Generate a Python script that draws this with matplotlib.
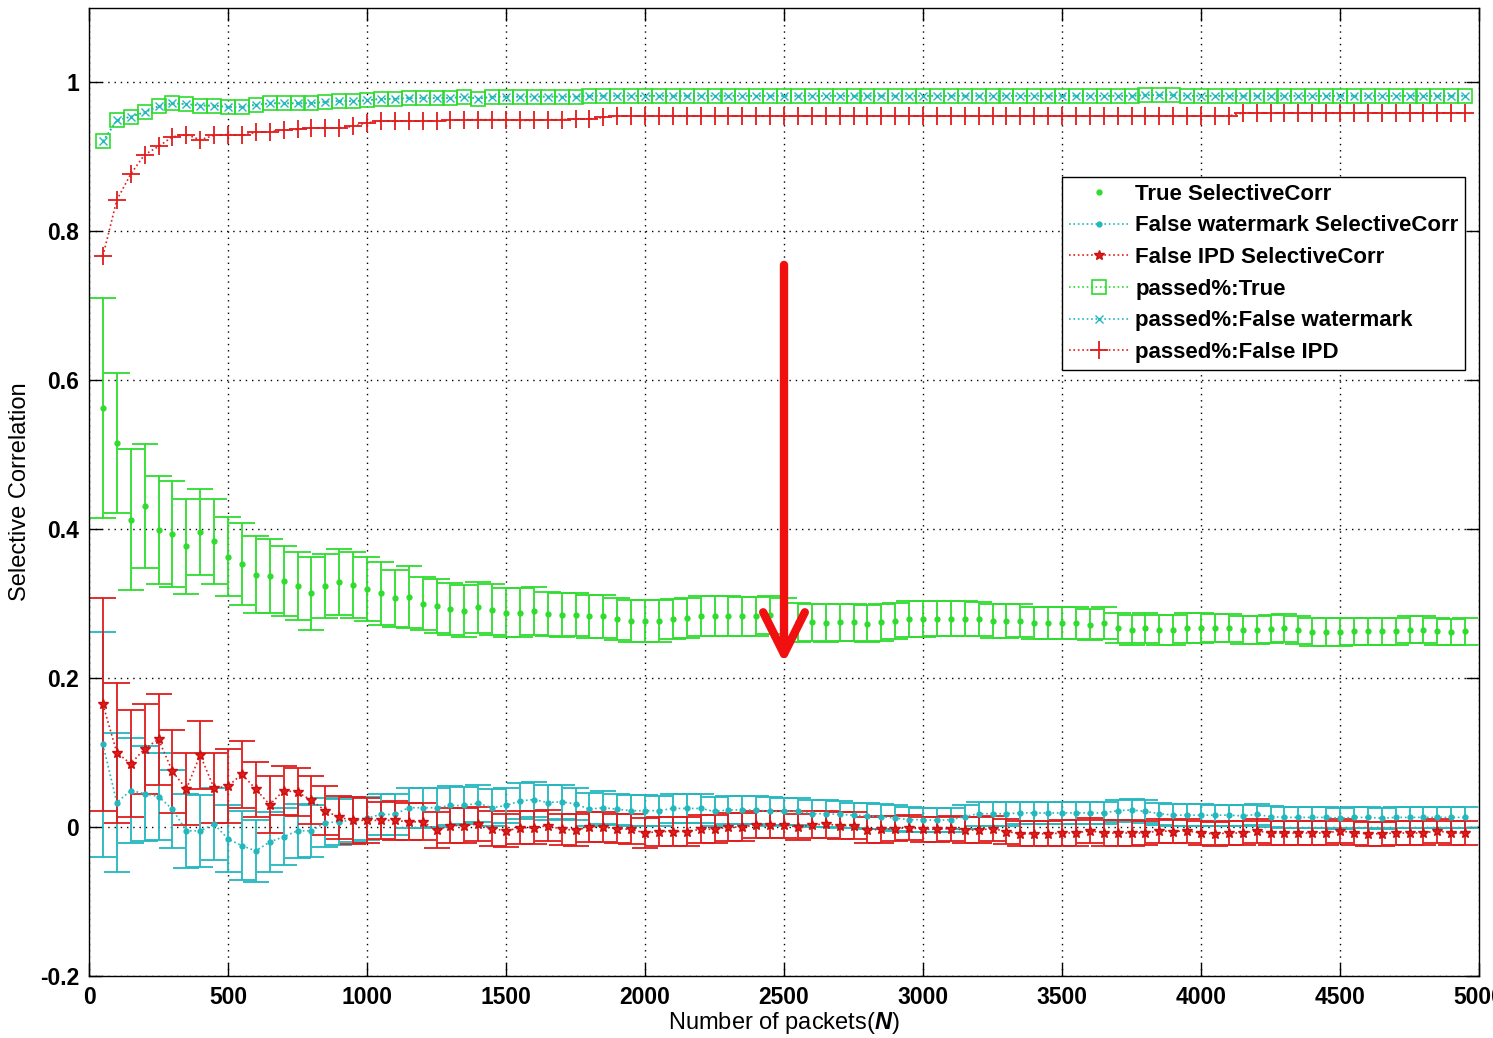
import matplotlib
matplotlib.use('Agg')
import matplotlib.pyplot as plt

# packets counted in steps of 50
N = list(range(50, 5000, 50))

true_corr = [
    0.563, 0.516, 0.413, 0.431, 0.399, 0.394, 0.377, 0.396, 0.384, 0.363,
    0.353, 0.339, 0.337, 0.331, 0.324, 0.314, 0.324, 0.329, 0.325, 0.320,
    0.314, 0.307, 0.309, 0.300, 0.297, 0.293, 0.290, 0.295, 0.292, 0.288,
    0.288, 0.290, 0.286, 0.285, 0.285, 0.283, 0.283, 0.279, 0.277, 0.277,
    0.277, 0.279, 0.281, 0.283, 0.283, 0.283, 0.283, 0.283, 0.285, 0.281,
    0.275, 0.275, 0.274, 0.275, 0.275, 0.273, 0.275, 0.277, 0.279, 0.279,
    0.280, 0.280, 0.280, 0.279, 0.277, 0.277, 0.277, 0.274, 0.274, 0.274,
    0.274, 0.272, 0.274, 0.267, 0.265, 0.267, 0.265, 0.265, 0.267, 0.267,
    0.267, 0.267, 0.265, 0.265, 0.266, 0.267, 0.265, 0.262, 0.262, 0.262,
    0.263, 0.263, 0.263, 0.263, 0.265, 0.265, 0.263, 0.262, 0.263,
]
true_err = [
    0.148, 0.094, 0.095, 0.083, 0.073, 0.071, 0.064, 0.058, 0.057, 0.053,
    0.055, 0.052, 0.050, 0.047, 0.046, 0.049, 0.043, 0.044, 0.044, 0.043,
    0.042, 0.038, 0.041, 0.036, 0.036, 0.035, 0.035, 0.034, 0.034, 0.033,
    0.033, 0.032, 0.030, 0.030, 0.029, 0.029, 0.029, 0.028, 0.028, 0.028,
    0.028, 0.027, 0.027, 0.027, 0.027, 0.027, 0.026, 0.026, 0.026, 0.026,
    0.026, 0.025, 0.025, 0.025, 0.025, 0.025, 0.025, 0.024, 0.024, 0.024,
    0.024, 0.024, 0.024, 0.023, 0.023, 0.023, 0.022, 0.022, 0.021, 0.021,
    0.021, 0.021, 0.021, 0.020, 0.020, 0.020, 0.020, 0.020, 0.020, 0.020,
    0.019, 0.019, 0.019, 0.019, 0.019, 0.019, 0.019, 0.019, 0.019, 0.019,
    0.018, 0.018, 0.018, 0.018, 0.018, 0.018, 0.018, 0.018, 0.018,
]

wm_corr = [
    0.111, 0.033, 0.049, 0.045, 0.041, 0.024, -0.005, -0.005, 0.004, -0.016,
    -0.025, -0.032, -0.020, -0.013, -0.005, -0.005, 0.006, 0.007, 0.010, 0.012,
    0.017, 0.017, 0.026, 0.026, 0.026, 0.029, 0.029, 0.032, 0.026, 0.029,
    0.035, 0.037, 0.033, 0.034, 0.031, 0.024, 0.026, 0.024, 0.022, 0.022,
    0.022, 0.025, 0.025, 0.025, 0.021, 0.023, 0.023, 0.023, 0.021, 0.021,
    0.021, 0.018, 0.018, 0.017, 0.016, 0.015, 0.014, 0.012, 0.010, 0.010,
    0.009, 0.010, 0.014, 0.018, 0.018, 0.018, 0.019, 0.019, 0.019, 0.019,
    0.019, 0.019, 0.019, 0.022, 0.023, 0.021, 0.018, 0.016, 0.016, 0.016,
    0.016, 0.016, 0.015, 0.017, 0.014, 0.013, 0.013, 0.013, 0.013, 0.012,
    0.013, 0.013, 0.012, 0.013, 0.013, 0.013, 0.013, 0.013, 0.013,
]
wm_err = [
    0.151, 0.094, 0.070, 0.064, 0.058, 0.052, 0.050, 0.048, 0.048, 0.045,
    0.046, 0.042, 0.040, 0.038, 0.036, 0.035, 0.033, 0.031, 0.030, 0.029,
    0.028, 0.028, 0.027, 0.027, 0.026, 0.026, 0.025, 0.025, 0.025, 0.024,
    0.024, 0.024, 0.023, 0.023, 0.022, 0.022, 0.022, 0.021, 0.021, 0.021,
    0.020, 0.020, 0.020, 0.020, 0.019, 0.019, 0.019, 0.019, 0.019, 0.018,
    0.018, 0.018, 0.018, 0.018, 0.017, 0.017, 0.017, 0.017, 0.017, 0.016,
    0.016, 0.016, 0.016, 0.016, 0.016, 0.016, 0.015, 0.015, 0.015, 0.015,
    0.015, 0.015, 0.015, 0.015, 0.015, 0.015, 0.015, 0.015, 0.015, 0.015,
    0.014, 0.014, 0.014, 0.014, 0.014, 0.014, 0.014, 0.014, 0.014, 0.014,
    0.014, 0.014, 0.014, 0.014, 0.014, 0.014, 0.014, 0.014, 0.014,
]

ipd_corr = [
    0.165, 0.100, 0.085, 0.105, 0.118, 0.075, 0.051, 0.097, 0.052, 0.055,
    0.071, 0.051, 0.030, 0.049, 0.047, 0.036, 0.022, 0.013, 0.009, 0.009,
    0.009, 0.009, 0.007, 0.007, -0.004, 0.002, 0.002, 0.004, -0.002, -0.005,
    -0.001, -0.001, 0.002, -0.003, -0.004, 0.000, 0.000, -0.002, -0.003, -0.008,
    -0.006, -0.006, -0.006, -0.003, -0.003, 0.000, 0.000, 0.003, 0.003, 0.003,
    0.000, 0.003, 0.004, 0.002, 0.002, -0.004, -0.003, -0.002, -0.001, -0.003,
    -0.003, -0.002, -0.004, -0.004, -0.002, -0.006, -0.009, -0.009, -0.009, -0.008,
    -0.008, -0.005, -0.008, -0.008, -0.008, -0.008, -0.005, -0.006, -0.005, -0.008,
    -0.009, -0.008, -0.008, -0.005, -0.008, -0.008, -0.008, -0.008, -0.008, -0.005,
    -0.008, -0.009, -0.009, -0.008, -0.008, -0.008, -0.005, -0.008, -0.008,
]
ipd_err = [
    0.143, 0.094, 0.072, 0.060, 0.061, 0.056, 0.048, 0.046, 0.047, 0.050,
    0.045, 0.037, 0.038, 0.033, 0.032, 0.032, 0.033, 0.029, 0.032, 0.030,
    0.025, 0.026, 0.025, 0.025, 0.024, 0.024, 0.023, 0.023, 0.023, 0.022,
    0.022, 0.022, 0.021, 0.021, 0.021, 0.020, 0.020, 0.020, 0.020, 0.020,
    0.019, 0.019, 0.019, 0.019, 0.019, 0.019, 0.019, 0.018, 0.018, 0.018,
    0.018, 0.018, 0.018, 0.018, 0.018, 0.018, 0.018, 0.017, 0.017, 0.017,
    0.017, 0.017, 0.017, 0.017, 0.017, 0.017, 0.017, 0.017, 0.017, 0.017,
    0.017, 0.017, 0.017, 0.017, 0.017, 0.016, 0.016, 0.016, 0.016, 0.016,
    0.016, 0.016, 0.016, 0.016, 0.016, 0.016, 0.016, 0.016, 0.016, 0.016,
    0.016, 0.016, 0.016, 0.016, 0.016, 0.016, 0.016, 0.016, 0.016,
]

passed_true = [
    0.921, 0.949, 0.954, 0.960, 0.968, 0.972, 0.971, 0.969, 0.969, 0.967,
    0.967, 0.970, 0.972, 0.972, 0.972, 0.972, 0.974, 0.975, 0.975, 0.976,
    0.978, 0.978, 0.979, 0.979, 0.979, 0.979, 0.981, 0.978, 0.981, 0.981,
    0.981, 0.981, 0.981, 0.981, 0.981, 0.982, 0.982, 0.982, 0.982, 0.982,
    0.982, 0.982, 0.982, 0.982, 0.982, 0.982, 0.982, 0.982, 0.982, 0.982,
    0.982, 0.982, 0.982, 0.982, 0.982, 0.982, 0.982, 0.982, 0.982, 0.982,
    0.982, 0.982, 0.982, 0.982, 0.982, 0.982, 0.982, 0.982, 0.982, 0.982,
    0.982, 0.982, 0.982, 0.982, 0.982, 0.983, 0.983, 0.983, 0.982, 0.982,
    0.982, 0.982, 0.982, 0.982, 0.982, 0.982, 0.982, 0.982, 0.982, 0.982,
    0.982, 0.982, 0.982, 0.982, 0.982, 0.982, 0.982, 0.982, 0.982,
]
passed_wm = [
    0.921, 0.949, 0.954, 0.960, 0.968, 0.972, 0.971, 0.969, 0.969, 0.967,
    0.967, 0.970, 0.972, 0.972, 0.972, 0.972, 0.974, 0.975, 0.975, 0.976,
    0.978, 0.978, 0.979, 0.979, 0.979, 0.979, 0.981, 0.978, 0.981, 0.981,
    0.981, 0.981, 0.981, 0.981, 0.981, 0.982, 0.982, 0.982, 0.982, 0.982,
    0.982, 0.982, 0.982, 0.982, 0.982, 0.982, 0.982, 0.982, 0.982, 0.982,
    0.982, 0.982, 0.982, 0.982, 0.982, 0.982, 0.982, 0.982, 0.982, 0.982,
    0.982, 0.982, 0.982, 0.982, 0.982, 0.982, 0.982, 0.982, 0.982, 0.982,
    0.982, 0.982, 0.982, 0.982, 0.982, 0.983, 0.983, 0.983, 0.982, 0.982,
    0.982, 0.982, 0.982, 0.982, 0.982, 0.982, 0.982, 0.982, 0.982, 0.982,
    0.982, 0.982, 0.982, 0.982, 0.982, 0.982, 0.982, 0.982, 0.982,
]
passed_ipd = [
    0.767, 0.842, 0.877, 0.903, 0.914, 0.927, 0.930, 0.923, 0.929, 0.930,
    0.929, 0.933, 0.934, 0.936, 0.937, 0.939, 0.939, 0.939, 0.941, 0.946,
    0.948, 0.948, 0.948, 0.948, 0.948, 0.949, 0.950, 0.950, 0.950, 0.950,
    0.949, 0.949, 0.950, 0.950, 0.951, 0.951, 0.953, 0.955, 0.955, 0.955,
    0.955, 0.955, 0.955, 0.955, 0.955, 0.955, 0.955, 0.955, 0.955, 0.955,
    0.955, 0.955, 0.955, 0.955, 0.955, 0.955, 0.955, 0.955, 0.955, 0.955,
    0.955, 0.955, 0.955, 0.955, 0.955, 0.955, 0.955, 0.955, 0.955, 0.955,
    0.955, 0.955, 0.955, 0.955, 0.955, 0.955, 0.955, 0.955, 0.955, 0.955,
    0.955, 0.955, 0.959, 0.959, 0.959, 0.959, 0.959, 0.959, 0.959, 0.959,
    0.959, 0.959, 0.959, 0.959, 0.959, 0.959, 0.959, 0.959, 0.959,
]

labels = ['True SelectiveCorr', 'False watermark SelectiveCorr',
          'False IPD SelectiveCorr', 'passed%:True',
          'passed%:False watermark', 'passed%:False IPD']

# arrow drawn on top of the plot (x, y_start, y_end)
arrow_x, arrow_top, arrow_tip = 2500, 0.755, 0.22

GREEN = '#2edc2e'
CYAN = '#22b8be'
RED = '#e01c1c'

plt.rcParams['font.family'] = ['Liberation Sans', 'DejaVu Sans']
plt.rcParams['font.weight'] = 'bold'
plt.rcParams['font.size'] = 16.5
plt.rcParams['mathtext.fontset'] = 'custom'
plt.rcParams['mathtext.it'] = 'Liberation Sans:italic:bold'
plt.rcParams['mathtext.rm'] = 'Liberation Sans:bold'

fig = plt.figure(figsize=(14.93, 10.38), dpi=100)
ax = fig.add_axes([89 / 1493, 62 / 1038, 1390 / 1493, 968 / 1038])

cap = 9.4
eb_true = ax.errorbar(N, true_corr, yerr=true_err, color=GREEN, marker='.',
                      ms=7, linestyle='none', elinewidth=1.3,
                      capsize=cap, capthick=1.3)
eb_wm = ax.errorbar(N, wm_corr, yerr=wm_err, color=CYAN, marker='.', ms=7,
                    linestyle=':', lw=1.2, elinewidth=1.3,
                    capsize=cap, capthick=1.3)
eb_ipd = ax.errorbar(N, ipd_corr, yerr=ipd_err, color=RED, marker='*',
                     ms=7, mec='#cc1010', linestyle=':', lw=1.2,
                     elinewidth=1.3, capsize=cap, capthick=1.3)

l_pt, = ax.plot(N, passed_true, color=GREEN, marker='s', ms=10, mfc='none',
                mew=1.2, linestyle=':', lw=1.2)
l_pw, = ax.plot(N, passed_wm, color=CYAN, marker='x', ms=6, mew=1.0,
                linestyle=':', lw=1.2)
l_pi, = ax.plot(N, passed_ipd, color=RED, marker='+', ms=13, mew=1.3,
                linestyle=':', lw=1.2)

ax.annotate('', xy=(arrow_x, arrow_tip), xytext=(arrow_x, arrow_top),
            arrowprops=dict(arrowstyle='->,head_length=1.0,head_width=0.5',
                            color='#f01010', lw=6, mutation_scale=30,
                            shrinkA=0, shrinkB=0))

ax.set_xlim(0, 5000)
ax.set_ylim(-0.2, 1.1)
ax.set_xticks(range(0, 5001, 500))
ax.set_yticks([-0.2, 0, 0.2, 0.4, 0.6, 0.8, 1.0])
ax.set_yticklabels(['-0.2', '0', '0.2', '0.4', '0.6', '0.8', '1'])
ax.tick_params(direction='in', top=True, right=True, length=9.5, width=1,
               pad=7, labelsize=16.5)
ax.grid(True, linestyle=(0, (1, 3.5)), color='black', lw=1)
ax.set_axisbelow(True)
for s in ax.spines.values():
    s.set_linewidth(1.0)

ax.set_xlabel('Number of packets($\\mathit{N}$)', fontsize=17)
ax.xaxis.set_label_coords(0.5, -0.035)
ax.set_ylabel('Selective Correlation', fontsize=17)
ax.yaxis.set_label_coords(-0.042, 0.5)

handles = [eb_true[0], eb_wm[0], eb_ipd[0], l_pt, l_pw, l_pi]
leg = ax.legend(handles, labels, loc='upper right',
                bbox_to_anchor=(0.990, 0.8254), fancybox=False, framealpha=1,
                edgecolor='black', borderpad=0.3, labelspacing=0.48,
                handlelength=2.7, handletextpad=0.3, borderaxespad=0,
                fontsize=16)
leg.get_frame().set_linewidth(1.0)

fig.savefig('out.png', dpi=100)
